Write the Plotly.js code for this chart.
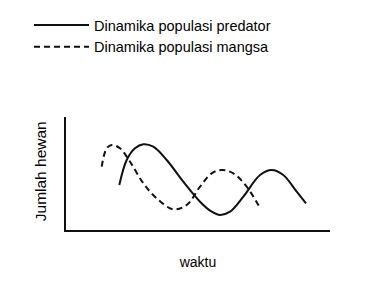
<!DOCTYPE html>
<html><head><meta charset="utf-8">
<script src="https://cdn.plot.ly/plotly-3.0.1.min.js"></script>
<style>html,body{margin:0;padding:0;background:#fff}#chart{width:387px;height:285px}</style>
</head><body><div id="chart"></div>
<script>
// Predator (solid) curve: time vs. population (arbitrary units)
const predatorX = [53.3, 60.7, 69, 77.3, 87.3, 100.7, 117.3, 134, 145.7, 154, 164, 177.3, 194, 205.7, 217.3, 230.7, 240];
const predatorY = [45, 70, 81.7, 85.7, 83.3, 70, 48.3, 28.3, 18.3, 15, 18.3, 33.3, 55, 60, 55, 38.3, 26.7];
// Prey (dashed) curve
const preyX = [35.7, 40.7, 45.7, 54, 64, 77.3, 90.7, 107.3, 120.7, 134, 145.7, 155.7, 167.3, 180.7, 193.3];
const preyY = [63.3, 81.7, 85, 81.7, 68.3, 46.7, 31.7, 20.7, 25, 43.3, 56.7, 60, 56.7, 43.3, 23.3];
const seriesNames = ["Dinamika populasi predator", "Dinamika populasi mangsa"];
const xTitle = "waktu";
const yTitle = "Jumlah hewan";

const FONT = '"Liberation Sans Narrow", "Liberation Sans", Arial, sans-serif';
const traces = [
  {x: predatorX, y: predatorY, mode: 'lines', name: seriesNames[0],
   line: {color: '#111', width: 2, shape: 'spline', smoothing: 1}},
  {x: preyX, y: preyY, mode: 'lines', name: seriesNames[1],
   line: {color: '#111', width: 2, dash: '6px,4px', shape: 'spline', smoothing: 1}}
];
const layout = {
  width: 387, height: 285,
  margin: {l: 66, r: 57, t: 117, b: 55, autoexpand: false},
  paper_bgcolor: '#fff', plot_bgcolor: '#fff',
  font: {family: FONT, color: '#000', size: 14},
  showlegend: true,
  legend: {xref: 'container', yref: 'container', x: 29/387, y: 1 - 9/285, xanchor: 'left', yanchor: 'top',
           itemwidth: 55, font: {family: FONT, size: 14.5, color: '#000'}, bgcolor: 'rgba(0,0,0,0)', tracegroupgap: 0},
  xaxis: {range: [0, 264], showline: true, linewidth: 2, linecolor: '#111', showgrid: false,
          zeroline: false, showticklabels: false, ticks: '', fixedrange: true,
          title: {text: xTitle, standoff: 26, font: {family: FONT, size: 14, color: '#000'}}},
  yaxis: {range: [0, 113], showline: true, linewidth: 2, linecolor: '#111', showgrid: false,
          zeroline: false, showticklabels: false, ticks: '', fixedrange: true},
  annotations: [{text: yTitle, xref: 'paper', yref: 'paper', x: 0, y: 0.52, xanchor: 'center', yanchor: 'middle',
                 xshift: -26, textangle: -90, showarrow: false, font: {family: FONT, size: 15.5, color: '#000'}}]
};
Plotly.newPlot('chart', traces, layout, {staticPlot: true, displayModeBar: false});
</script></body></html>
